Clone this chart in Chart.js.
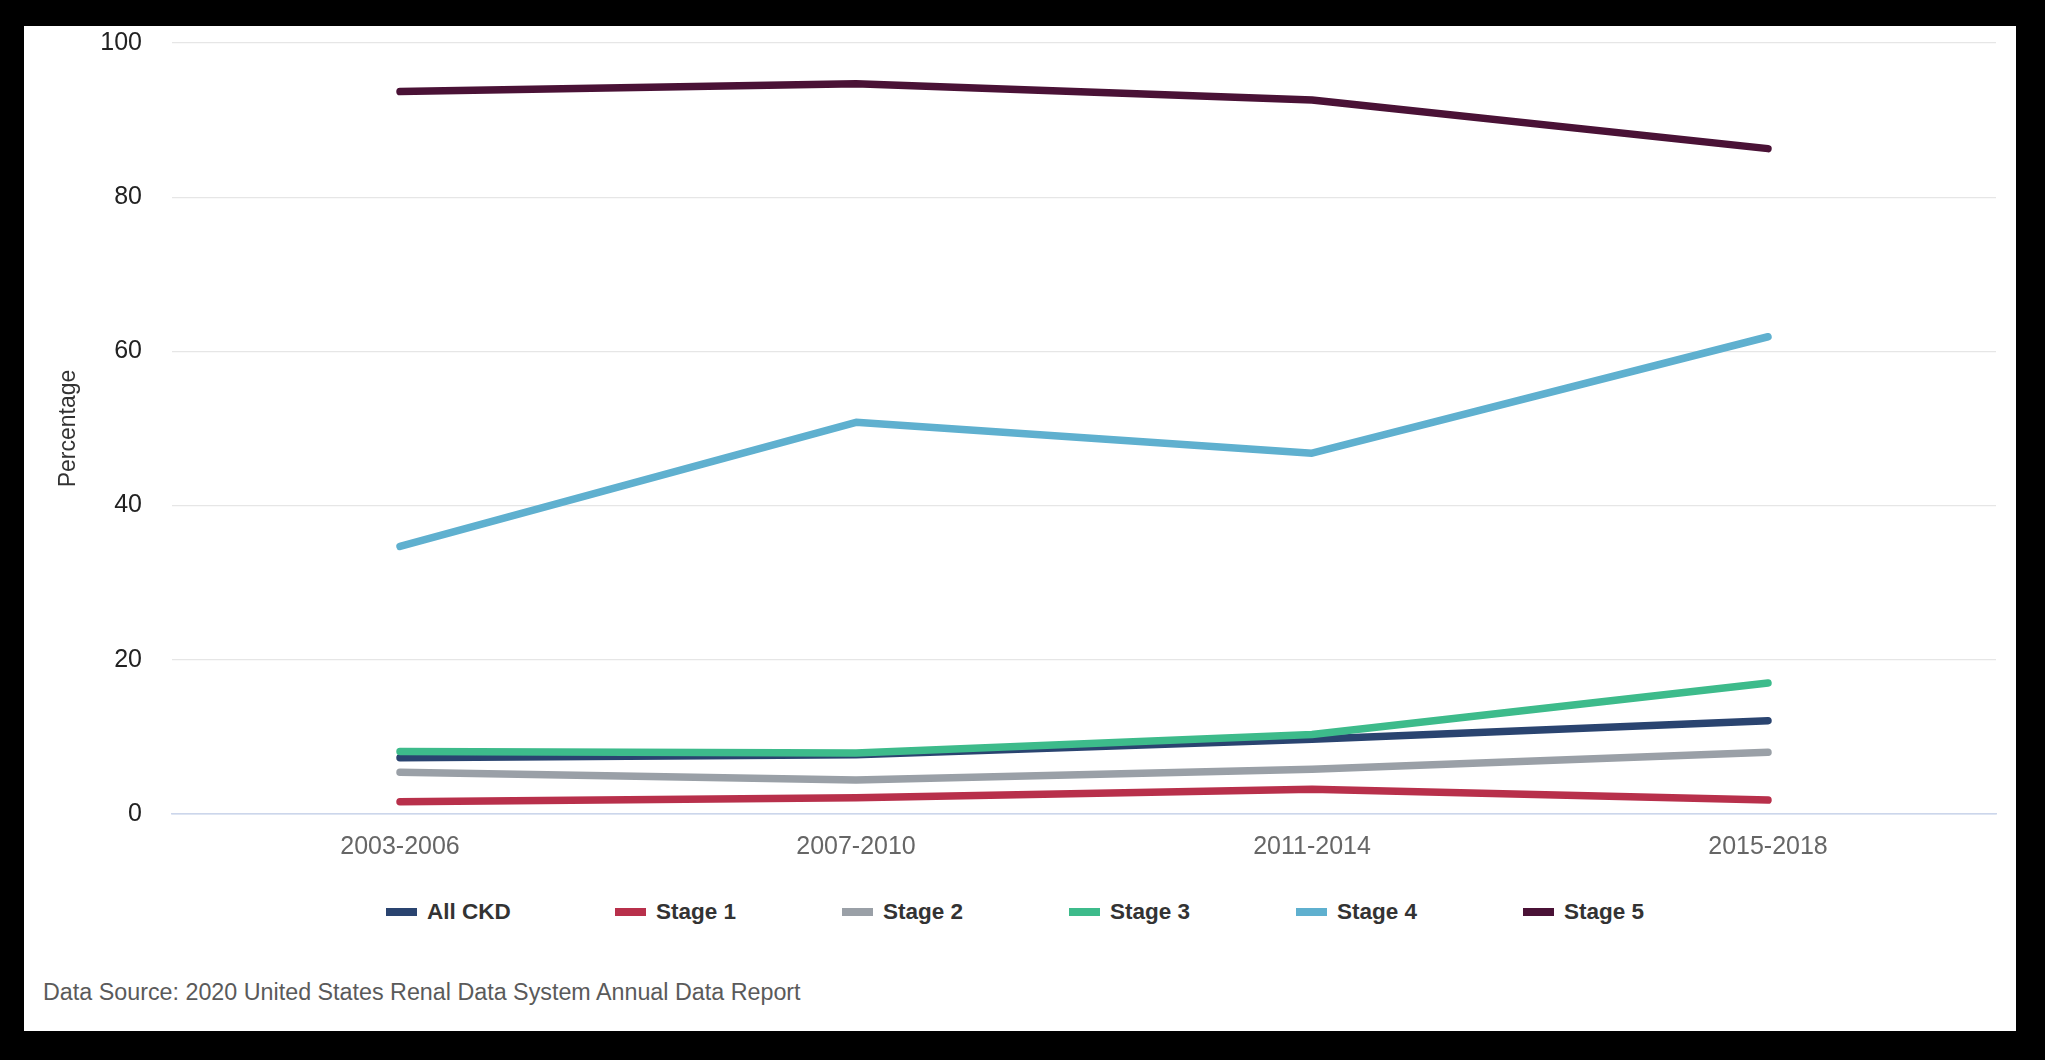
<!DOCTYPE html>
<html>
<head>
<meta charset="utf-8">
<script src="https://cdn.jsdelivr.net/npm/chart.js@4.4.1/dist/chart.umd.min.js"></script>
<style>
  html, body { margin: 0; padding: 0; background: #000; }
  body { width: 2045px; height: 1060px; position: relative; overflow: hidden; font-family: "Liberation Sans", Arial, sans-serif; }
  #panel { position: absolute; left: 24px; top: 26px; width: 1992px; height: 1005px; background: #fff; }
  #chart-wrap { position: absolute; left: 0; top: 0; width: 1992px; height: 854px; }
  #legend { position: absolute; left: 362px; top: 872px; height: 28px; display: flex; }
  .item { width: 227px; display: flex; align-items: center; font-weight: bold; font-size: 22.5px; color: #333; }
  .item:first-child { width: 229px; }
  .swatch { width: 31px; height: 8px; margin-right: 10px; }
  #source { position: absolute; left: 19px; top: 953px; font-size: 23.3px; color: #5a5a5a; }
</style>
</head>
<body>
<div id="panel">
  <div id="chart-wrap"><canvas id="ckd-chart"></canvas></div>
  <div id="legend"></div>
  <div id="source">Data Source: 2020 United States Renal Data System Annual Data Report</div>
</div>
<script>
const periods = ["2003-2006", "2007-2010", "2011-2014", "2015-2018"];
const seriesNames = ["All CKD", "Stage 1", "Stage 2", "Stage 3", "Stage 4", "Stage 5"];
const seriesColors = ["#2a4470", "#b8304b", "#9aa0a7", "#3dbb8b", "#5fb0cf", "#4a1236"];

const allCkd = [7.3, 7.7, 9.7, 12.1];
const stage1 = [1.6, 2.1, 3.2, 1.8];
const stage2 = [5.4, 4.4, 5.8, 8.0];
const stage3 = [8.1, 7.9, 10.3, 17.0];
const stage4 = [34.7, 50.8, 46.8, 61.9];
const stage5 = [93.7, 94.7, 92.6, 86.3];

const yTicks = [0, 20, 40, 60, 80, 100];

const seriesValues = [allCkd, stage1, stage2, stage3, stage4, stage5];

const ctx = document.getElementById("ckd-chart").getContext("2d");

new Chart(ctx, {
    type: "line",
    data: {
        labels: periods,
        datasets: seriesNames.map(function(name, i) {
            return {
                label: name,
                data: seriesValues[i],
                borderColor: seriesColors[i],
                backgroundColor: seriesColors[i],
                borderWidth: 7.5,
                borderCapStyle: "round",
                borderJoinStyle: "round",
                pointRadius: 0,
                tension: 0,
                order: seriesNames.length - i // later series drawn on top
            };
        })
    },
    options: {
        responsive: true,
        maintainAspectRatio: false,
        animation: false,
        layout: { padding: { top: 17, right: 20, left: 0, bottom: 0 } },
        plugins: {
            legend: { display: false },
            tooltip: { enabled: false }
        },
        scales: {
            x: {
                offset: true,
                grid: { display: false, drawTicks: false },
                border: { color: "#ccd6eb", width: 1.5 },
                ticks: {
                    color: "#666",
                    padding: 18,
                    font: { family: "'Liberation Sans', Arial, sans-serif", size: 25 }
                }
            },
            y: {
                min: 0,
                max: 100,
                afterBuildTicks: function(scale) {
                    scale.ticks = yTicks.map(function(v) { return { value: v }; });
                },
                afterFit: function(scale) {
                    scale.width = 148;
                    scale.paddingTop = 17;
                    scale.paddingBottom = 16;
                },
                border: { display: false },
                grid: {
                    drawTicks: false,
                    lineWidth: 1.3,
                    color: function(c) { return c.tick && c.tick.value === 0 ? "#ccd6eb" : "#e6e6e6"; }
                },
                ticks: {
                    color: "#222",
                    padding: 30,
                    font: { family: "'Liberation Sans', Arial, sans-serif", size: 25 }
                },
                title: {
                    display: true,
                    text: "Percentage",
                    color: "#333",
                    padding: { top: 31, bottom: 0 },
                    font: { family: "'Liberation Sans', Arial, sans-serif", size: 23 }
                }
            }
        }
    }
});

// legend, laid out like the original
const legend = document.getElementById("legend");
seriesNames.forEach(function(name, i) {
    const item = document.createElement("div");
    item.className = "item";
    const sw = document.createElement("span");
    sw.className = "swatch";
    sw.style.background = seriesColors[i];
    item.appendChild(sw);
    item.appendChild(document.createTextNode(name));
    legend.appendChild(item);
});
</script>
</body>
</html>
